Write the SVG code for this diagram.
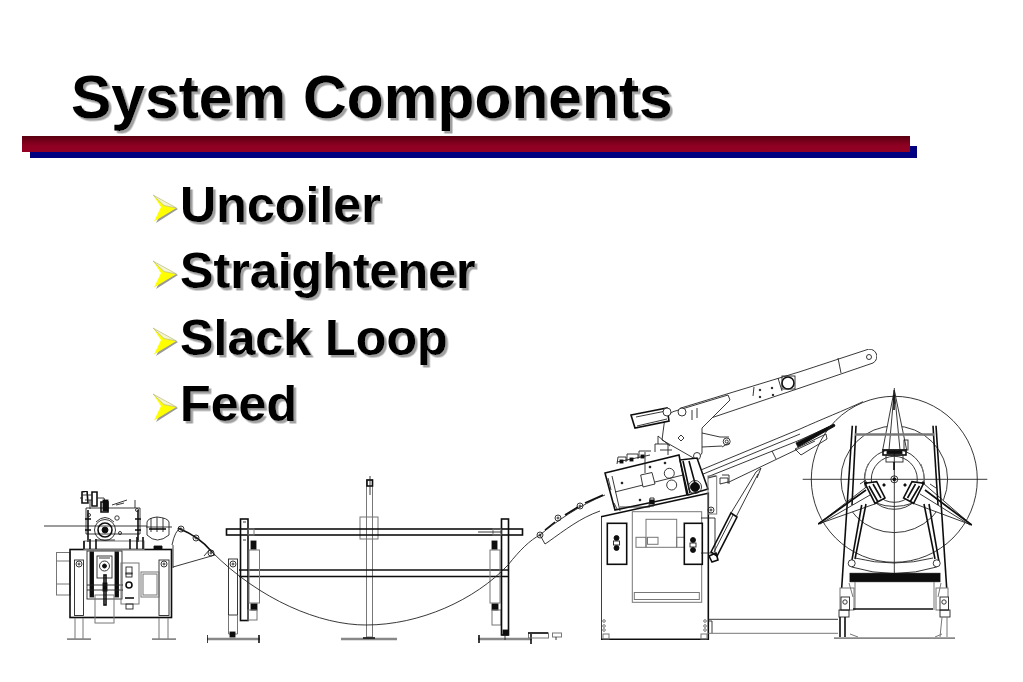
<svg xmlns="http://www.w3.org/2000/svg" xmlns:xlink="http://www.w3.org/1999/xlink" width="1023" height="682" viewBox="0 0 1023 682">
<style>
text{font-family:"Liberation Sans",Arial,sans-serif;font-weight:700;fill:#000;filter:url(#sh)}
.title{font-size:60.500px}
.item{font-size:50.200px}
.m{filter:url(#soft)}
.m *{fill:none;stroke:#222;stroke-width:.9}
.m .g{stroke:#777;stroke-width:1}
.m .t{stroke:#111;stroke-width:1.6}
.m .w{fill:#fff}
.m .b{fill:#111;stroke:#111}
.m .f{stroke:#888;stroke-width:2.400}
</style>
<defs>
<filter id="sh" x="-5%" y="-10%" width="110%" height="125%"><feDropShadow dx="2.500" dy="2.500" stdDeviation=".5" flood-color="#a0a0a0"/></filter>
<filter id="soft" x="0" y="0" width="100%" height="100%"><feGaussianBlur stdDeviation=".25"/></filter>
<linearGradient id="red" x1="0" y1="0" x2="0" y2="1"><stop offset="0" stop-color="#5a0010"/><stop offset=".6" stop-color="#8e0022"/><stop offset="1" stop-color="#940024"/></linearGradient>
<g id="ar"><polygon points="155,197 178,209 156,223 163,209" fill="#999"/><polygon points="153,195 176.500,208 154,221.500 161,207" fill="#ffff00"/><polygon points="153,195 176.500,208 164,205.500" fill="#f4f4d0" stroke="#b0b090" stroke-width=".6"/></g>
<g id="cap"><circle r="3"/><circle r="1" class="b"/></g>
</defs>
<rect width="1023" height="682" fill="#fff"/>
<g id="header">
<rect x="30" y="146" width="887" height="12" fill="#000080"/>
<rect x="22" y="136" width="888" height="16" fill="url(#red)"/>
<text class="title" x="71" y="118">System Components</text>
</g>
<g id="bullets">
<use xlink:href="#ar"/><text class="item" x="180" y="222">Uncoiler</text>
<use xlink:href="#ar" y="66"/><text class="item" x="180" y="288">Straightener</text>
<use xlink:href="#ar" y="133"/><text class="item" x="180" y="355">Slack Loop</text>
<use xlink:href="#ar" y="199"/><text class="item" x="180" y="421">Feed</text>
</g>
<g id="feed" class="m">
<path d="M44 526H147"/>
<rect class="g" x="56.500" y="552.500" width="13.500" height="42.500"/><path class="g" d="M56.500 561H70M56.500 584H70"/>
<rect class="t" x="70" y="549.500" width="101.500" height="68"/>
<rect x="74.500" y="560" width="9" height="55.500"/><rect x="159" y="560" width="10" height="55.500"/>
<use xlink:href="#cap" x="79" y="564"/><use xlink:href="#cap" x="164" y="564"/>
<path class="g" d="M75 618V639M83 618V639M159 618V639M168 618V639"/>
<path class="f" d="M67 639.500H91M152 639.500H176"/>
<path d="M86 508H140V534H86ZM90 509V500M135 508V500"/>
<path class="t" d="M88 510V542M138 510V542M85 519H91M135 519H141M85 530H91M135 530H141"/>
<rect class="g" x="84" y="541" width="60" height="8.500"/>
<path class="t" d="M84 541V549M90 539V549M96 539V549M130 539V549M137 537V549M143 537V549"/>
<path class="t" d="M82 492L87 491L88 503L82 503ZM92 492H97V506H92ZM101 502H108V512H101Z"/>
<path d="M82 495H92M85 500H92M97 498H104L106 505M112 505L127 500M116 505L124 503M80 498H83"/>
<rect x="103" y="500" width="5" height="11" class="b"/>
<circle cx="105" cy="530" r="10.500"/><circle cx="105" cy="530" r="7" class="t"/><circle cx="105" cy="530" r="3" class="b"/>
<path d="M96 522Q105 513 114 522M95 540H115"/>
<circle cx="117" cy="518" r="2.200"/><circle cx="120" cy="533" r="1.500"/><circle cx="89" cy="515" r="1.500"/><circle cx="137" cy="510" r="1.500"/>
<rect x="87" y="551" width="35" height="48"/>
<rect class="b" x="90" y="552" width="3.500" height="45"/><rect class="b" x="115" y="552" width="3.500" height="45"/>
<rect x="97" y="556" width="15" height="22"/><circle cx="104.500" cy="566" r="5"/><circle cx="104.500" cy="566" r="2" class="b"/><path d="M99 558H110"/>
<rect class="g" x="95" y="595" width="19" height="28"/><rect class="t" x="104" y="575" width="2" height="30"/><rect class="b" x="103" y="583" width="4" height="8"/>
<path d="M87 585H123M87 590H123"/>
<rect class="g" x="121" y="563" width="18" height="41"/>
<rect x="126" y="567" width="6" height="7"/><circle class="t" cx="129" cy="585" r="3"/><rect x="126" y="573" width="6" height="4"/><path class="t" d="M125 598H134"/><rect x="126" y="604" width="7" height="5"/>
<rect class="g" x="141" y="572" width="18" height="25"/><rect class="g" x="143" y="574" width="14" height="21"/>
<path d="M147 528V522Q148 518 157 517Q168 518 169 522V535Q157 545 147 535Z"/><path d="M151 518V532M157 517V532M163 518V532M146 527H172"/><path class="t" d="M149 529H166"/>
<path class="b" d="M154 546H162V549H154Z"/>
<path d="M172 545Q175 530 181 528"/>
<path class="t" d="M178 528Q200 537 212 552"/>
<path d="M173 567L215 555L210 549L204 556M173 545V568"/>
<use xlink:href="#cap" x="181" y="529"/><use xlink:href="#cap" x="196" y="538"/><use xlink:href="#cap" x="211" y="553"/>
</g>
<g id="slack-loop" class="m">
<path d="M545 544L548 542C565 530 580 518 600 511"/>
<path d="M540 535L545 544"/>
<use xlink:href="#cap" x="540" y="535"/><use xlink:href="#cap" x="558" y="518"/><use xlink:href="#cap" x="580" y="506"/>
<rect class="g" x="366.500" y="480" width="6" height="157"/>
<rect x="360" y="517" width="18" height="22" class="g"/>
<rect x="367" y="480" width="5.500" height="6" class="t"/>
<path d="M370 476V495"/>
<path class="f" d="M341 639H397"/><path class="t" d="M363 638H375"/>
<rect class="t" x="226.500" y="529" width="296" height="6"/>
<path class="t" d="M239 570H508M239 576.500H508"/>
<rect x="228.500" y="559" width="9" height="56"/><path class="g" d="M228.500 615V634H237.500V615"/>
<use xlink:href="#cap" x="233" y="564"/>
<rect class="t" x="240.500" y="519" width="7.500" height="101.500"/>
<rect class="g" x="248" y="529" width="6" height="6"/>
<path d="M243 522H246M243 540H246"/>
<rect class="g" x="249" y="550" width="10.500" height="53"/>
<rect class="b" x="251" y="541" width="5" height="8"/><rect class="b" x="251" y="604" width="6" height="6"/>
<rect class="g" x="248" y="610" width="9" height="10"/>
<rect class="g" x="490" y="550" width="10" height="53"/>
<rect class="b" x="492" y="541" width="5" height="8"/><rect class="b" x="492" y="604" width="6" height="6"/>
<rect class="g" x="492" y="610" width="9" height="15"/>
<rect class="t" x="501.500" y="519" width="7" height="116"/>
<rect class="g" x="493" y="529" width="8" height="6"/>
<path d="M478 532H502"/>
<path class="f" d="M207 639H260M478 639H532"/>
<path class="t" d="M207 635V643M259 635V643M479 635V643M531 634V644"/>
<rect class="b" x="230" y="632" width="5" height="5"/><rect class="b" x="503" y="630" width="5" height="5"/>
<path d="M505 635V640"/>
<rect class="g" x="528.500" y="633" width="20" height="5"/><path class="t" d="M528 633H548"/>
<rect class="g" x="552.500" y="633" width="9" height="4"/><path d="M556 637V640"/>
<path d="M212 552C260 600 320 625 366 625C420 625 475 600 508 565C520 550 530 540 540 535C555 522 580 505 605 495"/>
<path class="t" d="M545 530L555 522M565 515L578 507M585 503L603 495" />
</g>
<g id="straightener" class="m">
<polygon class="t" points="601,516.700 708.300,493.300 708.300,639.300 601,639.300"/>
<rect class="g" x="632.300" y="511.700" width="69.400" height="90.600"/>
<rect class="g" x="646" y="519.300" width="30.700" height="28"/>
<rect class="g" x="636" y="537.300" width="10" height="10"/><rect class="g" x="647.500" y="537.300" width="10.500" height="7"/><rect class="g" x="676.700" y="537.300" width="8" height="10"/>
<rect class="g" x="634.300" y="592.500" width="65" height="7"/>
<rect class="t w" x="607.300" y="523.300" width="19.400" height="41"/>
<rect class="t w" x="684.300" y="523.300" width="18" height="41"/>
<circle class="b" cx="616.500" cy="538" r="2.500"/><rect x="613.500" y="541" width="6" height="4"/><circle class="b" cx="616.500" cy="548" r="2.500"/>
<circle class="b" cx="693" cy="540" r="2.500"/><rect x="690" y="543" width="6" height="4"/><circle class="b" cx="693" cy="550" r="2.500"/>
<rect class="g" x="603" y="634" width="6" height="5"/><rect class="g" x="701" y="634" width="6" height="5"/>
<circle class="g" cx="604" cy="621" r="1.300"/><circle class="g" cx="604" cy="626" r="1.300"/><circle class="g" cx="604" cy="630" r="1.300"/>
<circle class="g" cx="705" cy="621" r="1.300"/><circle class="g" cx="705" cy="626" r="1.300"/><circle class="g" cx="705" cy="630" r="1.300"/>
<path d="M701 518H715V553M701 553H712"/>
<path d="M708.300 619.300H838M708.300 621H712V633.300"/><path class="g" d="M708.300 633.300H838"/>
<path d="M696 472L800 429C820 420 845 410 863 401.700"/>
<path d="M696 477L800 434"/>
<path d="M708 476.700L800 440L833 425"/>
<path d="M727 483L800 448L815 441"/>
<path d="M772 451L776 459"/>
<path class="b" d="M796 443L834 424L835 426L798 447Z"/>
<path d="M795 449L826 434L827 439L801 455Z"/>
<path d="M680 408.300L800 371.700L866 350"/>
<path d="M708 419L800 388L873 363"/>
<path d="M866 350A7 7 0 0 1 873 363"/>
<circle cx="869" cy="357" r="2.500"/>
<path d="M754 387L753 396M778 378L782 391M838 358L841 373"/>
<circle cx="788" cy="383" r="6" class="t"/><rect x="782" y="376" width="13" height="13"/>
<circle class="b" cx="760" cy="390" r=".8"/><circle class="b" cx="772" cy="388" r=".8"/><circle class="b" cx="773" cy="395" r=".8"/><circle class="b" cx="760" cy="397" r=".8"/>
<polygon class="w" points="673,411.700 728,395 730,400 702,428 702,453 697,460 662,440 665,417"/>
<polygon class="t w" points="631,415 667,408 669,421 635,428"/>
<path d="M636 417L666 411M637 426L667 419"/>
<circle class="w" cx="667" cy="412" r="4"/><circle class="w" cx="682" cy="412" r="4"/><circle class="w" cx="697" cy="456" r="3.500"/>
<circle class="w" cx="726.700" cy="441.500" r="3.500"/><circle cx="726.700" cy="441.500" r="1.500"/>
<path d="M702 433L720 437M702 447L722 446M720 437H729M722 447L729 443"/>
<path d="M678 438L681 435L684 438L681 441ZM692 410V420M697 408V418"/>
<polygon class="t w" points="605,473 679,455 687,495 615,510"/>
<path d="M615 492L683 475M612 476L620 511"/>
<polygon class="w" points="640.700,475 652,472.500 655,484 643,487"/><path d="M645 473V452"/>
<circle cx="669.300" cy="473.300" r="5"/><circle cx="671.700" cy="485" r="5"/>
<path d="M617 464L618 457H626V462M627 461V454H638V459M639 458V451H651M617 462L650 455M655 452V444H668V455M658 444V436L670 446M660 450H672"/>
<rect class="b" x="620" y="460" width="3" height="3"/><rect class="b" x="630" y="458" width="3" height="3"/><rect class="b" x="641" y="455" width="3" height="3"/>
<polygon class="t w" points="680,460 697,458 708,489 688,495"/>
<path class="t" d="M683 461L690 493M689 461L696 487"/><circle class="b" cx="695" cy="487" r="4.500"/><circle cx="695" cy="487" r="6.500"/>
<path d="M608 478L611 490M614 503L617 509M620 507H650M650 498H654V506H649Z"/><rect class="b" x="650" y="500" width="4" height="4"/>
<circle class="b" cx="622" cy="483" r=".9"/><circle class="b" cx="650" cy="467" r=".9"/><circle class="b" cx="665" cy="463" r=".9"/><circle class="b" cx="640" cy="500" r=".9"/>
<rect class="g" x="708" y="476" width="8.700" height="38"/><use xlink:href="#cap" x="711" y="510"/>
<path d="M708 478L716 476"/>
<path d="M720 478H728V482L720 484ZM722 475H729V484"/>
<path class="t" d="M711 552L731 513L737 517L717 556Z"/>
<path d="M714 552L733 515M731 513L756 472M736 517L758 474"/>
<path class="t" d="M709 556L716 553L718 560L712 562Z"/>
<path d="M756 472L761 468L757 478"/>
</g>
<g id="uncoiler" class="m">
<circle cx="894.300" cy="479.300" r="83"/>
<circle cx="894.300" cy="479.300" r="53.300"/>
<circle cx="894.300" cy="479.300" r="30"/>
<circle cx="894.300" cy="479.300" r="23"/>
<path d="M802.700 479.300H987.300M894.300 388V573"/>
<path class="g" d="M866 489A31 36 0 0 1 868 464M923 489A31 36 0 0 0 921 464"/>
<circle cx="894.300" cy="479.300" r="3.500"/><circle cx="894.300" cy="479.300" r="1.500" class="b"/>
<polygon class="w" points="894.300,390 882.700,450 906.700,450"/>
<path d="M894.300 390L889 450M894.300 390L900 450M894.300 390V404"/>
<path class="t" d="M894 395V410"/>
<rect x="883" y="450" width="23" height="5" class="t"/><rect class="b" x="887" y="451" width="15" height="2.500"/>
<rect x="886" y="455" width="17" height="7"/><path class="t" d="M894 462V470"/>
<rect x="904" y="440" width="4" height="10"/>
<polygon class="w" points="818.300,524 866.700,486.700 876.700,503.300"/>
<polygon class="w" points="971.700,525 923.300,483.300 913.300,503.300"/>
<path class="t" d="M818.300 524L866 490M971.700 525L925 490"/>
<path d="M820 524L870 495M970 525L920 494"/>
<polygon class="t w" points="865,483.300 876.700,481.700 885,498 875,503.300"/>
<polygon class="t w" points="923.600,483.300 912,481.700 903.600,498 913.600,503.300"/>
<path class="t" d="M869 486L878 502M873 484L881 498M919.500 486L910 502M915.500 484L907.500 498"/>
<circle class="b" cx="866" cy="483" r="1.200"/><circle class="b" cx="884" cy="485" r="1.200"/><circle class="b" cx="923" cy="483" r="1.200"/><circle class="b" cx="905" cy="485" r="1.200"/>
<path d="M860 484L866 480M930 484L936 488"/>
<path class="t" d="M852.300 425.700L841.700 588M856 425.700L852 505M936 425.700L946.700 588M933 425.700L938 505"/>
<path class="g" d="M855 434.500H934" style="stroke-width:2.400"/>
<path class="t" d="M861.700 505L851.700 561.700M866 504L855 559M929 504L939 562M924 504L935 559"/>
<circle class="w" cx="851.700" cy="563.300" r="3.500"/><circle class="w" cx="936.700" cy="563.300" r="3.500"/>
<path d="M855 558Q894 568 933 558M851.700 567Q894 580 936.700 567"/>
<path d="M876 503Q894 510 913 503"/>
<rect class="b" x="850" y="573.300" width="90" height="8.400"/>
<path class="g" d="M855 582V610M934 582V610M849 583L853 597M941 583L938 597"/>
<rect class="g" x="840" y="588" width="14" height="22"/><rect class="g" x="936" y="588" width="12" height="22"/>
<rect x="841" y="597" width="8.500" height="13" class="w"/><circle cx="845" cy="602" r="2.200"/>
<rect x="940" y="597" width="8.500" height="13" class="w"/><circle cx="944" cy="602" r="2.200"/>
<rect x="839" y="610" width="10" height="7"/><rect x="940" y="610" width="10" height="7"/>
<path class="t" d="M853 609H933"/>
<path class="t" d="M840 617V637M845 617V637"/><path class="g" d="M942 617L940 637M947 617V637M850 634L858 637M935 637L942 634"/>
<path class="f" d="M834 638.500H955"/>
</g>
</svg>
